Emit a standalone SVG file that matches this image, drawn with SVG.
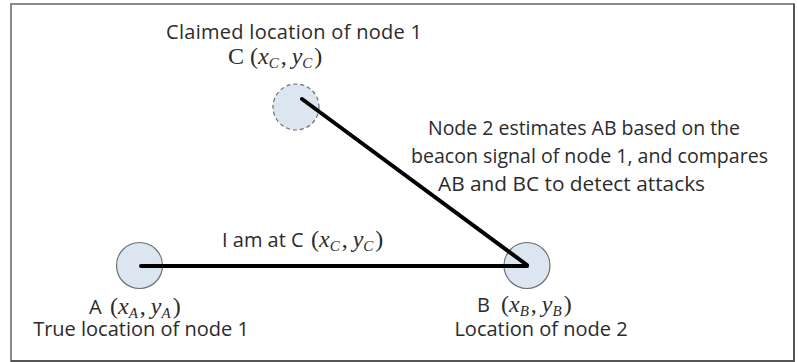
<svg xmlns="http://www.w3.org/2000/svg" width="798" height="362" viewBox="0 0 798 362">
<style>
.t{font-family:"Open Sans","Liberation Sans",sans-serif;font-size:20px;fill:#2b2b2b}
.m{font-family:"Liberation Serif","Times New Roman",serif;font-size:24px;fill:#2b2b2b}
.i{font-style:italic}
.s{font-size:15px}
.node{fill:#dce6f1;stroke:#6d6d6d;stroke-width:1.2}
.claimed{stroke-dasharray:4 3}
.edge{stroke:#000;stroke-width:4;stroke-linecap:round;fill:none}
</style>
<rect x="11" y="4" width="783" height="357" fill="#fff" stroke="#8a8a8a" stroke-width="2"/>
<path d="M794 4 V361 H11" fill="none" stroke="#555" stroke-width="2"/>

<g id="nodeC">
<circle class="node claimed" cx="296" cy="107" r="23"/>
<text class="t" x="166" y="39" textLength="256" lengthAdjust="spacing">Claimed location of node 1</text>
<text class="m" y="64"><tspan x="228">C</tspan><tspan x="250">(</tspan><tspan class="i">x</tspan><tspan class="i s" dy="4">C</tspan><tspan dx="2" dy="-4">,</tspan><tspan class="i" dx="5">y</tspan><tspan class="i s" dy="4">C</tspan><tspan dx="2" dy="-4">)</tspan></text>
</g>

<g id="nodeA">
<circle class="node" cx="139.5" cy="265.5" r="23"/>
<text y="314"><tspan class="t" x="89">A</tspan><tspan class="m" x="110">(</tspan><tspan class="m i">x</tspan><tspan class="m i s" dy="4">A</tspan><tspan class="m" dx="2" dy="-4">,</tspan><tspan class="m i" dx="5">y</tspan><tspan class="m i s" dy="4">A</tspan><tspan class="m" dx="2" dy="-4">)</tspan></text>
<text class="t" x="141" y="336" text-anchor="middle">True location of node 1</text>
</g>

<g id="nodeB">
<circle class="node" cx="527" cy="265.5" r="23"/>
<text y="312"><tspan class="t" x="477">B</tspan><tspan class="m" x="501">(</tspan><tspan class="m i">x</tspan><tspan class="m i s" dy="4">B</tspan><tspan class="m" dx="2" dy="-4">,</tspan><tspan class="m i" dx="5">y</tspan><tspan class="m i s" dy="4">B</tspan><tspan class="m" dx="2" dy="-4">)</tspan></text>
<text class="t" x="541" y="336" text-anchor="middle">Location of node 2</text>
</g>

<g id="note">
<text class="t" x="428" y="135" textLength="312" lengthAdjust="spacingAndGlyphs">Node 2 estimates AB based on the</text>
<text class="t" x="411" y="163" textLength="357" lengthAdjust="spacingAndGlyphs">beacon signal of node 1, and compares</text>
<text class="t" x="438" y="191" textLength="267" lengthAdjust="spacingAndGlyphs">AB and BC to detect attacks</text>
</g>

<g id="connectors">
<line class="edge" x1="141" y1="266" x2="527" y2="266"/>
<line class="edge" x1="302" y1="99" x2="527" y2="265"/>
<text y="247"><tspan class="t" x="222">I am at C</tspan><tspan class="m" x="311">(</tspan><tspan class="m i">x</tspan><tspan class="m i s" dy="4">C</tspan><tspan class="m" dx="2" dy="-4">,</tspan><tspan class="m i" dx="5">y</tspan><tspan class="m i s" dy="4">C</tspan><tspan class="m" dx="2" dy="-4">)</tspan></text>
</g>
</svg>
